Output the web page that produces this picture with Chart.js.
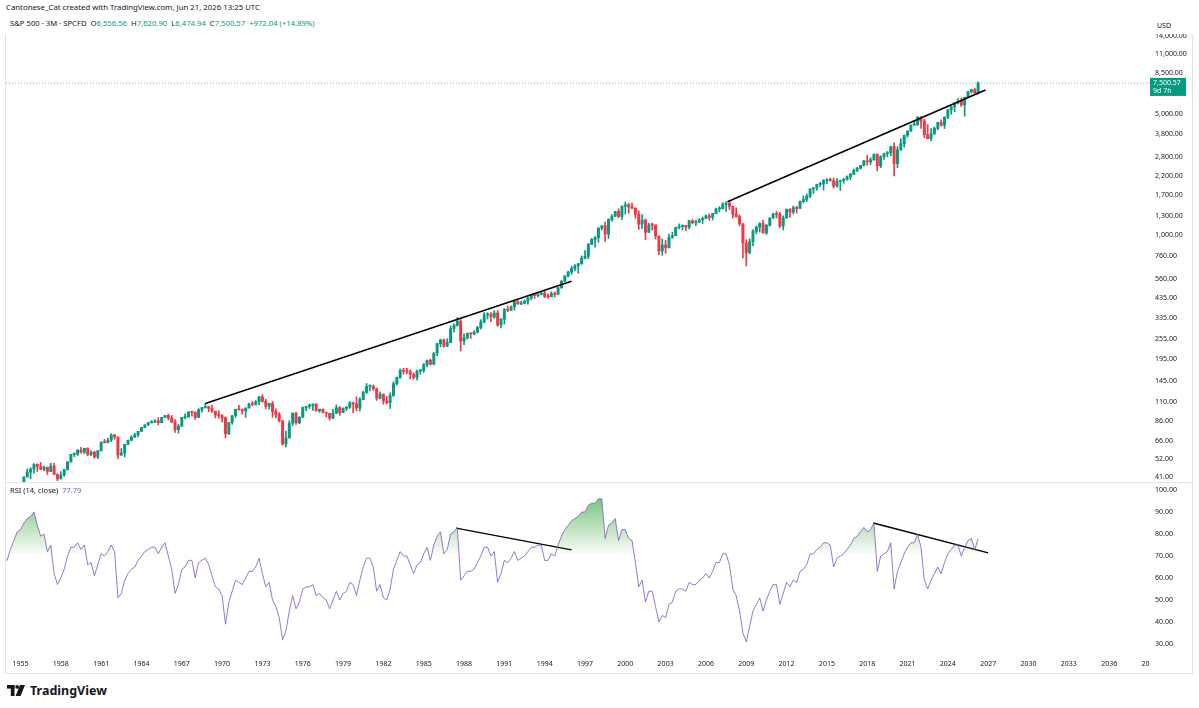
<!DOCTYPE html>
<html>
<head>
<meta charset="utf-8">
<title>S&amp;P 500 3M</title>
<script src="https://cdn.jsdelivr.net/npm/chart.js@4.4.1/dist/chart.umd.min.js"></script>
<style>
html, body { margin: 0; padding: 0; background: #fff; }
body { width: 1199px; height: 708px; overflow: hidden; position: relative; font-family: "Noto Sans", "Liberation Sans", sans-serif; color: #131722; }
#credit { position: absolute; left: 6px; top: 2px; font-size: 7.8px; white-space: nowrap; }
#legend { position: absolute; left: 10px; top: 18px; font-size: 7.7px; white-space: nowrap; }
#legend .v { color: #089981; }
#usd { position: absolute; left: 1157px; top: 21px; font-size: 7px; }
#frame { position: absolute; left: 5px; top: 34px; width: 1186px; height: 639px; border-left: 1px solid #e0e3eb; border-right: 1px solid #e0e3eb; border-bottom: 1px solid #e0e3eb; }
#priceBox { position: absolute; left: 0; top: 0; }
#sep { position: absolute; left: 0; top: 448px; width: 1186px; height: 1px; background: #e0e3eb; }
#rsiBox { position: absolute; left: 0; top: 450px; }
#rsiTitle { position: absolute; left: 10px; top: 485px; font-size: 7.5px; white-space: nowrap; }
#rsiTitle .v { color: #7e57c2; }
#brand { position: absolute; left: 7px; top: 682px; display: flex; align-items: center; gap: 5px; font-weight: bold; font-size: 12.5px; }
</style>
</head>
<body>
<div id="credit">Cantonese_Cat created with TradingView.com, Jun 21, 2026 13:25 UTC</div>
<div id="legend">S&amp;P 500 · 3M · SPCFD&nbsp;&nbsp;O<span class="v">6,556.56</span>&nbsp;&nbsp;H<span class="v">7,620.90</span>&nbsp;&nbsp;L<span class="v">6,474.94</span>&nbsp;&nbsp;C<span class="v">7,500.57</span>&nbsp;&nbsp;<span class="v">+972.04 (+14.89%)</span></div>
<div id="usd">USD</div>
<div id="frame">
  <canvas id="priceBox" width="1186" height="448"></canvas>
  <div id="sep"></div>
  <canvas id="rsiBox" width="1186" height="189"></canvas>
</div>
<div id="rsiTitle">RSI (14, close)&nbsp;&nbsp;<span class="v">77.79</span></div>
<div id="brand">
  <svg width="18" height="11" viewBox="0 0 18 11"><rect x="0" y="0" width="7.5" height="3.6" fill="#131722"/><rect x="3.8" y="0" width="3.7" height="11" fill="#131722"/><circle cx="10.2" cy="1.9" r="1.9" fill="#131722"/><polygon points="13,0 18,0 13.6,11 8.6,11" fill="#131722"/></svg>
  <span>TradingView</span>
</div>
<script>
// quarterly candles, 1953 Q1 .. 2026 Q2
const firstYear = 1953;

const opens = [
  26.6, 25.3, 24.1, 23.4,
  24.8, 26.9, 29.2, 32.3,  36.0, 36.6, 41.0, 43.7,  45.5, 48.5, 47.0, 45.4,  46.7, 44.1, 47.4, 42.4,
  40.0, 42.1, 45.2, 50.1,  55.2, 55.4, 58.5, 56.9,  59.9, 55.3, 56.9, 53.5,  58.1, 65.1, 64.6, 66.7,
  71.6, 69.6, 54.8, 56.3,  63.1, 66.6, 69.4, 71.7,  75.0, 79.0, 81.7, 84.2,  84.8, 86.2, 84.1, 90.0,
  92.4, 89.2, 84.7, 76.6,  80.3, 90.2, 90.6, 96.7,  96.5, 90.2, 99.6, 102.7,  103.9, 101.5, 97.7, 93.1,
  92.1, 89.6, 72.7, 84.2,  92.2, 100.3, 99.7, 98.3,  102.1, 107.2, 107.1, 110.6,  118.1, 111.5, 104.3, 108.4,
  97.6, 94.0, 86.0, 63.5,  68.6, 83.4, 95.2, 83.9,  90.2, 102.8, 104.3, 105.2,  107.5, 98.4, 100.5, 96.5,
  95.1, 89.2, 95.5, 102.5,  96.1, 101.6, 102.9, 109.3,  107.9, 102.1, 114.2, 125.5,  135.8, 136.0, 131.2, 116.2,
  122.6, 112.0, 109.6, 120.4,  140.6, 153.0, 168.1, 166.1,  164.9, 159.2, 153.2, 166.1,  167.2, 180.7, 191.9, 182.1,
  211.3, 238.9, 250.8, 231.3,  242.2, 291.7, 304.0, 321.8,  247.1, 258.9, 273.5, 271.9,  277.7, 294.9, 318.0, 349.2,
  353.4, 339.9, 358.0, 306.1,  330.2, 375.2, 371.2, 387.9,  417.1, 403.7, 408.1, 417.8,  435.7, 451.7, 450.5, 458.9,
  466.5, 445.8, 444.3, 462.7,  459.3, 500.7, 544.8, 584.4,  615.9, 645.5, 670.6, 687.3,  740.7, 757.1, 885.1, 947.3,
  970.4, 1101.8, 1133.8, 1017.0,  1229.2, 1286.4, 1372.7, 1282.7,  1469.3, 1498.6, 1454.6, 1436.5,  1320.3, 1160.3, 1224.4, 1040.9,
  1148.1, 1147.4, 989.8, 815.3,  879.8, 848.2, 974.5, 996.0,  1111.9, 1126.2, 1140.8, 1114.6,  1211.9, 1180.6, 1191.3, 1228.8,
  1248.3, 1294.8, 1270.2, 1335.9,  1418.3, 1420.9, 1503.4, 1526.8,  1468.4, 1322.7, 1280.0, 1166.4,  903.3, 797.9, 919.3, 1057.1,
  1115.1, 1169.4, 1030.7, 1141.2,  1257.6, 1325.8, 1320.6, 1131.4,  1257.6, 1408.5, 1362.2, 1440.7,  1426.2, 1569.2, 1606.3, 1681.6,
  1848.4, 1872.3, 1960.2, 1972.3,  2058.9, 2067.9, 2063.1, 1920.0,  2043.9, 2059.7, 2098.9, 2168.3,  2238.8, 2362.7, 2423.4, 2519.4,
  2673.6, 2640.9, 2718.4, 2914.0,  2506.9, 2834.4, 2941.8, 2976.7,  3230.8, 2584.6, 3100.3, 3363.0,  3756.1, 3972.9, 4297.5, 4307.5,
  4766.2, 4530.4, 3785.4, 3585.6,  3839.5, 4109.3, 4450.4, 4288.1,  4769.8, 5254.4, 5460.5, 5762.5,  5881.6, 5611.9, 6205.0, 6688.5,
  6845.5, 6556.56
];

const highs = [
  26.7, 25.6, 24.8, 24.8,
  27.0, 29.3, 32.7, 36.0,  37.5, 41.1, 45.6, 46.4,  48.9, 48.8, 49.7, 47.4,  46.7, 49.1, 49.1, 42.8,
  44.0, 45.3, 50.1, 55.2,  56.4, 58.7, 60.7, 59.9,  60.4, 58.0, 57.5, 58.1,  65.1, 67.4, 68.5, 72.6,
  71.8, 69.6, 59.8, 63.1,  66.7, 70.8, 73.0, 75.0,  79.1, 81.8, 84.2, 86.3,  87.6, 90.0, 90.0, 92.6,
  94.1, 92.4, 87.6, 82.4,  90.2, 94.6, 97.3, 97.6,  97.0, 101.3, 103.0, 108.4,  104.0, 106.2, 98.0, 98.3,
  93.5, 90.7, 84.5, 92.2,  100.6, 105.6, 101.0, 102.1,  108.8, 111.0, 112.6, 119.1,  121.7, 114.5, 109.0, 111.4,
  101.0, 96.0, 86.9, 75.1,  86.3, 95.9, 96.6, 91.2,  103.4, 104.3, 107.8, 107.8,  107.9, 100.5, 100.5, 96.5,
  95.1, 100.3, 106.3, 104.2,  102.3, 104.2, 111.3, 110.0,  118.4, 117.2, 127.3, 141.0,  138.4, 138.1, 133.0, 126.4,
  122.7, 119.3, 124.9, 144.4,  153.7, 171.0, 172.7, 172.6,  169.3, 162.3, 168.4, 170.4,  183.6, 192.0, 194.3, 212.0,
  240.0, 253.4, 254.0, 254.9,  301.9, 310.3, 337.9, 328.0,  271.6, 275.5, 275.6, 284.0,  300.7, 328.0, 360.3, 359.8,
  360.6, 369.8, 369.8, 333.0,  380.0, 392.2, 393.5, 418.0,  421.2, 419.1, 425.3, 442.7,  456.7, 453.6, 463.6, 470.9,
  482.9, 462.1, 475.1, 473.8,  503.2, 551.1, 586.0, 622.9,  664.2, 680.3, 690.9, 762.1,  817.0, 898.7, 961.0, 983.1,
  1105.7, 1138.5, 1190.6, 1244.9,  1316.6, 1372.9, 1420.3, 1473.1,  1552.9, 1527.2, 1530.1, 1436.5,  1383.4, 1316.0, 1239.8, 1173.6,
  1176.8, 1147.8, 994.5, 954.3,  935.1, 1015.3, 1040.3, 1112.6,  1163.2, 1150.6, 1140.8, 1217.9,  1229.1, 1219.6, 1245.9, 1275.8,
  1310.9, 1326.7, 1340.3, 1431.8,  1461.6, 1540.6, 1555.9, 1576.1,  1471.8, 1440.2, 1313.2, 1167.0,  943.9, 956.2, 1080.2, 1130.4,
  1180.7, 1219.8, 1157.2, 1262.6,  1344.1, 1370.6, 1356.5, 1292.7,  1419.2, 1422.4, 1474.5, 1470.0,  1570.6, 1687.2, 1729.9, 1849.4,
  1884.0, 1968.2, 2019.3, 2093.6,  2119.6, 2134.7, 2132.8, 2116.5,  2072.2, 2120.6, 2193.8, 2277.5,  2401.1, 2453.8, 2519.4, 2695.0,
  2872.9, 2791.5, 2940.9, 2939.9,  2860.3, 2964.2, 3028.0, 3247.9,  3393.5, 3233.1, 3588.1, 3760.2,  3983.9, 4302.4, 4545.9, 4808.9,
  4818.6, 4637.3, 4325.3, 4101.0,  4195.4, 4458.5, 4607.1, 4793.3,  5264.9, 5523.6, 5767.4, 6100.0,  6147.4, 6215.1, 6699.5, 6920.0,
  7002.0, 7620.90
];

const lows = [
  25.0, 22.7, 22.7, 23.0,
  24.8, 26.8, 29.0, 31.7,  34.6, 36.6, 41.0, 40.0,  43.1, 44.1, 45.1, 44.4,  42.4, 44.0, 42.4, 39.0,
  40.0, 41.3, 44.9, 49.9,  53.6, 54.4, 56.2, 55.9,  54.2, 54.3, 52.5, 52.2,  57.6, 64.2, 64.4, 65.3,
  67.6, 52.3, 54.5, 53.5,  62.7, 66.4, 69.1, 69.6,  74.8, 78.7, 80.8, 83.5,  84.2, 81.6, 84.1, 89.9,
  87.3, 84.0, 73.9, 73.2,  80.0, 88.4, 90.6, 91.6,  87.7, 89.7, 96.6, 102.0,  97.1, 96.2, 89.5, 89.2,
  84.7, 68.6, 71.8, 82.2,  90.2, 99.2, 94.0, 90.2,  101.7, 104.9, 105.9, 106.8,  110.4, 101.0, 100.5, 90.3,
  89.5, 85.0, 62.3, 61.0,  68.6, 80.7, 82.1, 82.9,  90.2, 98.6, 101.3, 98.8,  97.9, 96.3, 95.5, 90.7,
  86.9, 88.5, 94.5, 92.5,  96.0, 98.5, 101.5, 96.1,  98.2, 98.2, 113.5, 123.6,  128.0, 128.8, 112.8, 115.0,
  107.3, 107.3, 101.4, 119.0,  138.3, 151.0, 159.5, 160.8,  150.2, 149.0, 147.3, 159.5,  163.4, 175.7, 180.2, 180.7,
  203.5, 228.8, 228.3, 229.3,  242.2, 278.2, 301.3, 216.5,  236.1, 253.0, 256.0, 268.0,  275.3, 290.0, 314.4, 331.0,
  319.8, 333.0, 300.0, 294.5,  309.4, 364.4, 370.8, 372.4,  402.0, 400.0, 404.0, 402.7,  426.9, 433.5, 445.1, 454.4,
  438.9, 435.9, 443.7, 444.2,  457.2, 496.0, 539.9, 576.5,  597.3, 627.7, 605.8, 681.0,  733.5, 733.5, 884.9, 855.3,
  912.8, 1074.0, 923.3, 959.7,  1205.5, 1281.0, 1263.0, 1233.7,  1325.0, 1339.4, 1418.6, 1254.1,  1081.2, 1091.9, 944.8, 1038.6,
  1074.4, 952.9, 775.7, 768.6,  788.9, 847.9, 960.8, 995.9,  1087.2, 1076.3, 1060.7, 1090.2,  1163.7, 1136.2, 1183.6, 1168.2,
  1245.7, 1219.3, 1224.5, 1327.1,  1363.9, 1416.4, 1370.6, 1406.1,  1257.0, 1272.0, 1133.5, 741.0,  666.8, 783.3, 869.3, 1020.2,
  1044.5, 1028.3, 1010.9, 1131.9,  1249.1, 1258.1, 1101.5, 1074.8,  1253.0, 1267.0, 1325.4, 1343.4,  1426.2, 1536.0, 1560.3, 1646.5,
  1737.9, 1814.4, 1904.8, 1820.7,  1980.9, 2048.4, 1867.0, 1893.7,  1810.1, 1991.7, 2074.0, 2083.8,  2233.6, 2322.3, 2405.7, 2502.0,
  2532.7, 2553.8, 2691.0, 2346.6,  2444.0, 2728.8, 2822.1, 2855.9,  2191.9, 2447.5, 3073.0, 3209.5,  3662.7, 3952.2, 4278.9, 4278.9,
  4114.7, 3636.9, 3584.1, 3491.6,  3794.3, 4048.3, 4238.6, 4103.8,  4682.1, 4953.6, 5119.3, 5674.0,  5488.7, 4835.0, 6174.0, 6550.0,
  6500.0, 6474.94
];

const closes = [
  25.3, 24.1, 23.4, 24.8,
  26.9, 29.2, 32.3, 36.0,  36.6, 41.0, 43.7, 45.5,  48.5, 47.0, 45.4, 46.7,  44.1, 47.4, 42.4, 40.0,
  42.1, 45.2, 50.1, 55.2,  55.4, 58.5, 56.9, 59.9,  55.3, 56.9, 53.5, 58.1,  65.1, 64.6, 66.7, 71.6,
  69.6, 54.8, 56.3, 63.1,  66.6, 69.4, 71.7, 75.0,  79.0, 81.7, 84.2, 84.8,  86.2, 84.1, 90.0, 92.4,
  89.2, 84.7, 76.6, 80.3,  90.2, 90.6, 96.7, 96.5,  90.2, 99.6, 102.7, 103.9,  101.5, 97.7, 93.1, 92.1,
  89.6, 72.7, 84.2, 92.2,  100.3, 99.7, 98.3, 102.1,  107.2, 107.1, 110.6, 118.1,  111.5, 104.3, 108.4, 97.6,
  94.0, 86.0, 63.5, 68.6,  83.4, 95.2, 83.9, 90.2,  102.8, 104.3, 105.2, 107.5,  98.4, 100.5, 96.5, 95.1,
  89.2, 95.5, 102.5, 96.1,  101.6, 102.9, 109.3, 107.9,  102.1, 114.2, 125.5, 135.8,  136.0, 131.2, 116.2, 122.6,
  112.0, 109.6, 120.4, 140.6,  153.0, 168.1, 166.1, 164.9,  159.2, 153.2, 166.1, 167.2,  180.7, 191.9, 182.1, 211.3,
  238.9, 250.8, 231.3, 242.2,  291.7, 304.0, 321.8, 247.1,  258.9, 273.5, 271.9, 277.7,  294.9, 318.0, 349.2, 353.4,
  339.9, 358.0, 306.1, 330.2,  375.2, 371.2, 387.9, 417.1,  403.7, 408.1, 417.8, 435.7,  451.7, 450.5, 458.9, 466.5,
  445.8, 444.3, 462.7, 459.3,  500.7, 544.8, 584.4, 615.9,  645.5, 670.6, 687.3, 740.7,  757.1, 885.1, 947.3, 970.4,
  1101.8, 1133.8, 1017.0, 1229.2,  1286.4, 1372.7, 1282.7, 1469.3,  1498.6, 1454.6, 1436.5, 1320.3,  1160.3, 1224.4, 1040.9, 1148.1,
  1147.4, 989.8, 815.3, 879.8,  848.2, 974.5, 996.0, 1111.9,  1126.2, 1140.8, 1114.6, 1211.9,  1180.6, 1191.3, 1228.8, 1248.3,
  1294.8, 1270.2, 1335.9, 1418.3,  1420.9, 1503.4, 1526.8, 1468.4,  1322.7, 1280.0, 1166.4, 903.3,  797.9, 919.3, 1057.1, 1115.1,
  1169.4, 1030.7, 1141.2, 1257.6,  1325.8, 1320.6, 1131.4, 1257.6,  1408.5, 1362.2, 1440.7, 1426.2,  1569.2, 1606.3, 1681.6, 1848.4,
  1872.3, 1960.2, 1972.3, 2058.9,  2067.9, 2063.1, 1920.0, 2043.9,  2059.7, 2098.9, 2168.3, 2238.8,  2362.7, 2423.4, 2519.4, 2673.6,
  2640.9, 2718.4, 2914.0, 2506.9,  2834.4, 2941.8, 2976.7, 3230.8,  2584.6, 3100.3, 3363.0, 3756.1,  3972.9, 4297.5, 4307.5, 4766.2,
  4530.4, 3785.4, 3585.6, 3839.5,  4109.3, 4450.4, 4288.1, 4769.8,  5254.4, 5460.5, 5762.5, 5881.6,  5611.9, 6205.0, 6688.5, 6845.5,
  6556.56, 7500.57
];

// RSI (14, close), same quarters
const rsiValues = [
  68, 62, 59, 69,
  68, 73, 77, 81,  82, 85, 87, 88,  90, 84, 79, 80,  72, 75, 62, 57,
  60, 64, 70, 74,  74, 76, 73, 75,  66, 67, 61, 66,  71, 70, 72, 75,
  72, 51, 53, 59,  62, 64, 65, 68,  70, 72, 73, 74,  74, 71, 74, 76,
  70, 64, 53, 57,  64, 65, 68, 68,  60, 67, 68, 69,  66, 61, 56, 55,
  52, 39, 49, 54,  59, 58, 57, 60,  63, 63, 65, 69,  62, 56, 58, 50,
  47, 42, 32, 36,  45, 52, 46, 49,  55, 56, 56, 57,  52, 53, 51, 50,
  46, 50, 54, 50,  53, 54, 58, 57,  52, 59, 65, 69,  69, 65, 54, 57,
  51, 50, 55, 64,  68, 72, 70, 70,  66, 62, 66, 67,  71, 74, 68, 75,
  79, 81, 71, 73,  80, 81, 83, 59,  61, 63, 63, 64,  67, 70, 74, 74,
  70, 72, 58, 62,  68, 67, 69, 72,  68, 69, 70, 72,  74, 74, 75, 75,
  68, 68, 71, 70,  75, 79, 82, 84,  86, 87, 88, 90,  90, 93, 94, 94,
  96, 96, 78, 84,  85, 87, 77, 82,  82, 78, 77, 67,  56, 59, 49, 54,
  54, 47, 40, 43,  42, 48, 49, 54,  55, 55, 54, 58,  57, 57, 59, 60,
  62, 60, 63, 67,  67, 71, 71, 66,  55, 52, 45, 35,  31, 38, 45, 48,
  51, 45, 50, 54,  57, 57, 48, 53,  58, 56, 59, 58,  63, 64, 66, 71,
  71, 73, 74, 76,  76, 75, 65, 69,  70, 71, 73, 75,  78, 79, 81, 83,
  81, 82, 85, 63,  70, 71, 72, 76,  55, 63, 67, 71,  74, 76, 76, 80,
  74, 59, 55, 59,  62, 65, 62, 67,  71, 73, 75, 75,  70, 74, 77, 78,
  73, 77.79
];

// drawn trend lines
const priceLineA = [{ x: 1968.75, y: 108.4 }, { x: 1996.0, y: 545 }];
const priceLineB = [{ x: 2007.6, y: 1560 }, { x: 2026.8, y: 6830 }];
const rsiLineA = [{ x: 1987.4, y: 82.7 }, { x: 1996.0, y: 72.8 }];
const rsiLineB = [{ x: 2018.45, y: 85.0 }, { x: 2027.0, y: 71.4 }];

// axes
const priceTicks = [41, 52, 66, 86, 110, 145, 195, 255, 335, 435, 560, 760, 1000, 1300, 1700, 2200, 2800, 3800, 5000, 8500, 11000, 14000];
const rsiTicks = [30, 40, 50, 60, 70, 80, 90, 100];
const yearTicks = [1955, 1958, 1961, 1964, 1967, 1970, 1973, 1976, 1979, 1982, 1985, 1988, 1991, 1994, 1997, 2000, 2003, 2006, 2009, 2012, 2015, 2018, 2021, 2024, 2027, 2030, 2033, 2036, 2039];
const timeMin = 1953.92, timeMax = 2039.04;

const upColor = '#089981';
const downColor = '#f23645';

// each bar sits at the start of its quarter
const quarterX = opens.map((_, i) => firstYear + i / 4);

Chart.defaults.font.family = '"Noto Sans", "Liberation Sans", sans-serif';
Chart.defaults.color = '#131722';

const candleColor = ctx => closes[ctx.dataIndex] >= opens[ctx.dataIndex] ? upColor : downColor;

function fixAxisWidth(scale) {
  scale.width = 42;
  scale.paddingTop = 0;
  scale.paddingBottom = 0;
}

const lastClose = closes[closes.length - 1];

// green price tag on the right scale
const priceTag = {
  id: 'priceTag',
  afterDraw(chart) {
    const { ctx, chartArea } = chart;
    const y = chart.scales.y.getPixelForValue(lastClose);
    ctx.save();
    ctx.fillStyle = upColor;
    ctx.fillRect(chartArea.right, y - 5, 36, 18);
    ctx.fillStyle = '#fff';
    ctx.font = '7px "Noto Sans"';
    ctx.textBaseline = 'middle';
    ctx.fillText(lastClose.toLocaleString('en-US', { minimumFractionDigits: 2 }), chartArea.right + 3, y);
    ctx.fillText('9d 7h', chartArea.right + 3, y + 8);
    ctx.restore();
  }
};

new Chart(document.getElementById('priceBox'), {
  type: 'bar',
  data: {
    datasets: [
      {
        label: 'wick',
        data: quarterX.map((x, i) => ({ x, y: [lows[i], highs[i]] })),
        backgroundColor: candleColor,
        barThickness: 1,
        grouped: false,
        order: 2
      },
      {
        label: 'body',
        data: quarterX.map((x, i) => ({ x, y: [opens[i], closes[i]] })),
        backgroundColor: candleColor,
        barThickness: 2.3,
        minBarLength: 1,
        grouped: false,
        order: 1
      },
      {
        type: 'line', label: 'last',
        data: [{ x: timeMin, y: lastClose }, { x: timeMax, y: lastClose }],
        borderColor: '#a3a6af', borderWidth: 1, borderDash: [1, 2], pointRadius: 0, order: 3
      },
      {
        type: 'line', label: 'trend A', data: priceLineA,
        borderColor: '#000', borderWidth: 1.6, pointRadius: 0, order: 0
      },
      {
        type: 'line', label: 'trend B', data: priceLineB,
        borderColor: '#000', borderWidth: 1.6, pointRadius: 0, order: 0
      }
    ]
  },
  options: {
    responsive: false,
    animation: false,
    events: [],
    layout: { padding: 0 },
    plugins: { legend: { display: false }, tooltip: { enabled: false } },
    scales: {
      x: { type: 'linear', min: timeMin, max: timeMax, offset: false, display: false },
      y: {
        type: 'logarithmic', position: 'right', min: 38.37, max: 14320,
        grid: { display: false, drawTicks: false }, border: { display: false },
        ticks: {
          autoSkip: false, padding: 5, font: { size: 7 },
          callback: v => Number(v).toLocaleString('en-US', { minimumFractionDigits: 2, maximumFractionDigits: 2 })
        },
        afterBuildTicks: s => { s.ticks = priceTicks.map(v => ({ value: v })); },
        afterFit: fixAxisWidth
      }
    }
  },
  plugins: [priceTag]
});

// hide the part of the last year label that runs under the price scale
const cutOverflow = {
  id: 'cutOverflow',
  afterDraw(chart) {
    const { ctx, chartArea } = chart;
    ctx.save();
    ctx.fillStyle = '#fff';
    ctx.fillRect(chartArea.right, chartArea.bottom + 1, chart.width - chartArea.right, chart.height - chartArea.bottom);
    ctx.restore();
  }
};

new Chart(document.getElementById('rsiBox'), {
  type: 'line',
  data: {
    datasets: [
      {
        label: 'RSI',
        data: quarterX.map((x, i) => ({ x, y: rsiValues[i] })),
        borderColor: 'rgba(126,87,194,0.8)',
        borderWidth: 1,
        pointRadius: 0,
        fill: { target: { value: 70 }, below: 'rgba(0,0,0,0)' },
        backgroundColor: ctx => {
          const chart = ctx.chart;
          if (!chart.chartArea) return 'rgba(0,0,0,0)';
          const ys = chart.scales.y;
          const g = chart.ctx.createLinearGradient(0, ys.getPixelForValue(100), 0, ys.getPixelForValue(70));
          g.addColorStop(0, 'rgba(76,175,80,0.85)');
          g.addColorStop(1, 'rgba(76,175,80,0)');
          return g;
        }
      },
      { label: 'rsi trend A', data: rsiLineA, borderColor: '#000', borderWidth: 1.4, pointRadius: 0, fill: false },
      { label: 'rsi trend B', data: rsiLineB, borderColor: '#000', borderWidth: 1.4, pointRadius: 0, fill: false }
    ]
  },
  options: {
    responsive: false,
    animation: false,
    events: [],
    layout: { padding: 0 },
    plugins: { legend: { display: false }, tooltip: { enabled: false } },
    scales: {
      x: {
        type: 'linear', min: timeMin, max: timeMax, offset: false, position: 'bottom',
        grid: { display: false, drawTicks: false }, border: { display: false },
        ticks: { autoSkip: false, maxRotation: 0, padding: 5, font: { size: 7 }, callback: v => String(v) },
        afterBuildTicks: s => { s.ticks = yearTicks.map(v => ({ value: v })); },
        afterFit: s => { s.height = 18; s.paddingLeft = 0; s.paddingRight = 0; }
      },
      y: {
        type: 'linear', position: 'right', min: 25, max: 102.73,
        grid: { display: false, drawTicks: false }, border: { display: false },
        ticks: { autoSkip: false, padding: 5, font: { size: 7 }, callback: v => Number(v).toFixed(2) },
        afterBuildTicks: s => { s.ticks = rsiTicks.map(v => ({ value: v })); },
        afterFit: fixAxisWidth
      }
    }
  },
  plugins: [cutOverflow]
});
</script>
</body>
</html>
